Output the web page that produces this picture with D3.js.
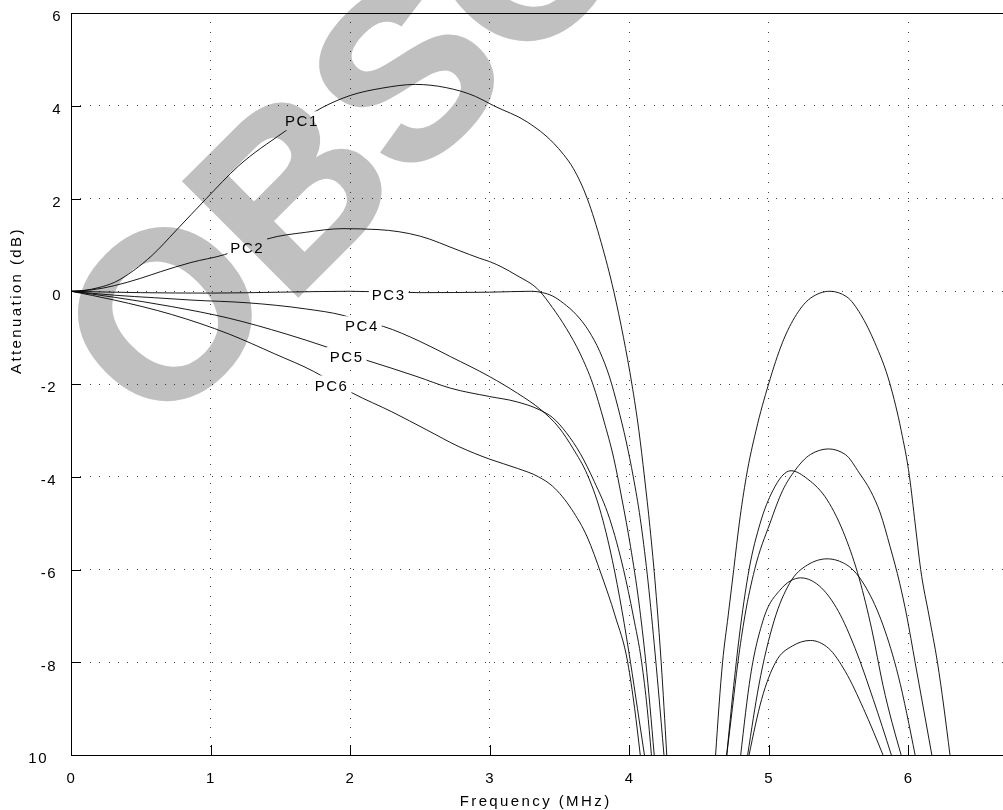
<!DOCTYPE html>
<html>
<head>
<meta charset="utf-8">
<script src="https://cdn.jsdelivr.net/npm/d3@7"></script>
<style>
  body { margin: 0; background: #fff; }
  svg { display: block; font-family: "Liberation Sans", Arial, sans-serif; }
  .axis text, .curve-label { font-size: 15px; letter-spacing: 1.5px; fill: #000; }
  .title { font-size: 15px; letter-spacing: 2.4px; fill: #000; }
  .axis path, .axis line { stroke: #000; stroke-width: 1; shape-rendering: crispEdges; }
  .grid line { stroke: #444; stroke-width: 1; stroke-dasharray: 1 8.4; shape-rendering: crispEdges; }
  .curve { fill: none; stroke: #000; stroke-width: 0.9; }
  .watermark { font-family: "Liberation Sans", Arial, sans-serif; font-weight: bold; font-size: 235px; fill: #c0c0c0; stroke: #c0c0c0; stroke-width: 3; mix-blend-mode: multiply; }
</style>
</head>
<body>
<div id="chart"></div>
<script>
// axis ticks
const xTicks = [0, 1, 2, 3, 4, 5, 6];
const yTicks = [6, 4, 2, 0, -2, -4, -6, -8, -10];
const yTickText = ['6', '4', '2', '0', '-2', '-4', '-6', '-8', '10'];

// passband responses [MHz, dB]
const pc1 = [[0, 0], [0.1, 0.02], [0.2, 0.08], [0.31, 0.19], [0.45, 0.45], [0.58, 0.77], [0.75, 1.3], [0.97, 2.0],
  [1.2, 2.7], [1.52, 3.42], [1.65, 3.69], [1.8, 3.96], [2.0, 4.22], [2.23, 4.38], [2.47, 4.46], [2.69, 4.39],
  [2.9, 4.2], [3.03, 4.0], [3.27, 3.65], [3.46, 3.19], [3.53, 2.95], [3.6, 2.65], [3.7, 2.0], [3.8, 1.05],
  [3.89, 0], [3.96, -1], [4.02, -2], [4.07, -3], [4.11, -4], [4.15, -5.1], [4.19, -6.4], [4.23, -8], [4.27, -10]];
const pc2 = [[0, 0], [0.15, 0.03], [0.31, 0.12], [0.5, 0.28], [0.64, 0.42], [0.86, 0.62], [1.1, 0.79], [1.25, 0.95],
  [1.41, 1.13], [1.68, 1.27], [1.95, 1.35], [2.2, 1.33], [2.5, 1.19], [2.78, 0.88], [2.93, 0.71], [3.0, 0.64],
  [3.19, 0.35], [3.36, 0], [3.45, -0.35], [3.55, -0.8], [3.65, -1.35], [3.74, -2], [3.82, -2.8], [3.89, -3.6],
  [3.95, -4.5], [4.01, -5.5], [4.07, -6.7], [4.12, -8], [4.18, -10]];
const pc3 = [[0, 0], [0.5, -0.03], [1.0, -0.04], [1.5, -0.02], [2.0, 0], [2.5, -0.03], [3.0, -0.02], [3.3, 0],
  [3.38, -0.03], [3.45, -0.1], [3.53, -0.26], [3.62, -0.5], [3.71, -0.85], [3.79, -1.3], [3.86, -1.85],
  [3.92, -2.5], [3.98, -3.25], [4.03, -4], [4.08, -4.9], [4.13, -6.1], [4.18, -7.6], [4.21, -8.6], [4.25, -10]];
const pc4 = [[0, 0], [0.31, -0.085], [0.6, -0.14], [0.86, -0.19], [1.27, -0.25], [1.68, -0.38], [1.95, -0.52],
  [2.09, -0.65], [2.24, -0.76], [2.5, -1.08], [2.72, -1.41], [3.0, -1.84], [3.2, -2.2], [3.37, -2.56], [3.5, -2.95],
  [3.6, -3.4], [3.7, -3.95], [3.79, -4.7], [3.88, -5.8], [3.95, -6.9], [4.01, -8], [4.06, -9], [4.11, -10]];
const pc5 = [[0, 0], [0.31, -0.13], [0.72, -0.33], [1.13, -0.58], [1.54, -0.92], [1.83, -1.2], [1.97, -1.35],
  [2.12, -1.49], [2.48, -1.84], [2.72, -2.09], [3.0, -2.27], [3.19, -2.38], [3.36, -2.56], [3.45, -2.72],
  [3.55, -3.05], [3.65, -3.5], [3.75, -4.1], [3.86, -4.9], [3.96, -6], [4.03, -7], [4.09, -8], [4.13, -9], [4.16, -10]];
const pc6 = [[0, 0], [0.31, -0.19], [0.72, -0.5], [1.13, -0.92], [1.46, -1.35], [1.74, -1.73], [1.87, -1.95],
  [2.02, -2.2], [2.3, -2.6], [2.55, -2.99], [2.78, -3.35], [3.0, -3.62], [3.2, -3.82], [3.35, -4.0], [3.45, -4.2],
  [3.59, -4.71], [3.7, -5.3], [3.8, -6.1], [3.9, -7.0], [3.99, -8], [4.04, -9], [4.08, -10]];

// stopband lobes [MHz, dB]
const lobe1 = [[4.62, -10], [4.67, -8], [4.71, -7], [4.75, -6], [4.79, -5], [4.84, -4], [4.91, -3], [5.0, -2],
  [5.1, -1.1], [5.2, -0.5], [5.3, -0.15], [5.44, 0], [5.56, -0.12], [5.66, -0.5], [5.76, -1.1], [5.87, -2],
  [5.95, -3], [6.01, -4], [6.05, -5], [6.09, -6], [6.15, -7], [6.21, -8], [6.3, -10]];
const lobe2 = [[4.7, -10], [4.74, -9], [4.78, -8], [4.83, -7], [4.9, -6], [5.01, -5], [5.1, -4.3], [5.19, -3.86],
  [5.3, -3.52], [5.43, -3.4], [5.55, -3.52], [5.65, -3.92], [5.73, -4.3], [5.8, -4.78], [5.87, -5.5],
  [5.94, -6.3], [5.99, -7], [6.05, -8], [6.17, -10]];
const lobe3 = [[4.7, -10], [4.75, -8.5], [4.8, -7.2], [4.86, -6], [4.94, -5], [5.03, -4.3], [5.16, -3.87],
  [5.28, -4.05], [5.42, -4.5], [5.55, -5.3], [5.65, -6.2], [5.74, -7.3], [5.82, -8.5], [5.95, -10]];
const lobe4 = [[4.85, -10], [4.93, -8.5], [5.04, -7.1], [5.15, -6.3], [5.28, -5.9], [5.42, -5.77], [5.56, -5.9],
  [5.7, -6.4], [5.82, -7.2], [5.93, -8.3], [6.05, -10]];
const lobe5 = [[4.8, -10], [4.87, -8.3], [4.96, -7.1], [5.08, -6.45], [5.23, -6.18], [5.38, -6.4], [5.5, -6.9],
  [5.62, -7.7], [5.75, -8.8], [5.88, -10]];
const lobe6 = [[4.86, -10], [4.95, -8.8], [5.05, -8.0], [5.17, -7.65], [5.3, -7.53], [5.43, -7.7], [5.55, -8.2],
  [5.68, -9.0], [5.82, -10]];

// curve labels, placed on the curves
const labelNames = ['PC1', 'PC2', 'PC3', 'PC4', 'PC5', 'PC6'];
const labelFreq = [1.655, 1.263, 2.277, 2.085, 1.976, 1.868];
const labelAtt = [3.67, 0.946, -0.07, -0.75, -1.414, -2.027];

const width = 1003;
const height = 810;
const margin = { top: 13, right: 0, bottom: 55, left: 71 };

const x = d3.scaleLinear().domain([0, 6.68]).range([margin.left, width - margin.right]);
const y = d3.scaleLinear().domain([-10, 6]).range([height - margin.bottom, margin.top]);

const svg = d3.select('#chart').append('svg')
    .attr('width', width)
    .attr('height', height);

svg.append('defs').append('clipPath')
    .attr('id', 'clip')
  .append('rect')
    .attr('x', x.range()[0])
    .attr('y', y.range()[1])
    .attr('width', x.range()[1] - x.range()[0])
    .attr('height', y.range()[0] - y.range()[1]);

// dotted grid
const grid = svg.append('g').attr('class', 'grid');
grid.selectAll('.gx')
  .data(xTicks.filter(d => d > 0))
  .enter().append('line')
    .attr('x1', d => x(d)).attr('x2', d => x(d))
    .attr('y1', y(6)).attr('y2', y(-10));
grid.selectAll('.gy')
  .data(yTicks.filter(d => d > -10 && d < 6))
  .enter().append('line')
    .attr('x1', x.range()[0]).attr('x2', x.range()[1])
    .attr('y1', d => y(d)).attr('y2', d => y(d));

// curves
const line = d3.line()
    .curve(d3.curveMonotoneX)
    .x(d => x(d[0]))
    .y(d => y(d[1]));

svg.append('g')
    .attr('clip-path', 'url(#clip)')
  .selectAll('path')
  .data([pc1, pc2, pc3, pc4, pc5, pc6, lobe1, lobe2, lobe3, lobe4, lobe5, lobe6])
  .enter().append('path')
    .attr('class', 'curve')
    .attr('d', line);

// labels with a white box that breaks the curve
const labels = svg.append('g');
labelNames.forEach((name, i) => {
  const g = labels.append('g')
      .attr('transform', `translate(${x(labelFreq[i])}, ${y(labelAtt[i])})`);
  const bg = g.append('rect').attr('fill', '#fff');
  const t = g.append('text')
      .attr('class', 'curve-label')
      .attr('text-anchor', 'middle')
      .attr('dy', '0.35em')
      .text(name);
  const bb = t.node().getBBox();
  bg.attr('x', bb.x - 3).attr('y', bb.y - 1)
    .attr('width', bb.width + 6).attr('height', bb.height + 2);
});

// axes
const yAxis = d3.axisLeft(y)
    .tickValues(yTicks)
    .tickFormat((d, i) => yTickText[i])
    .tickSize(-10)
    .tickSizeOuter(0)
    .tickPadding(10);

const xAxis = d3.axisBottom(x)
    .tickValues(xTicks)
    .tickFormat(d3.format('d'))
    .tickSize(-10)
    .tickSizeOuter(0)
    .tickPadding(17);

const gy = svg.append('g')
    .attr('class', 'y axis')
    .attr('transform', `translate(${margin.left}, 0)`)
    .call(yAxis);
gy.select('.domain').remove();
gy.selectAll('.tick text')
    .attr('font-family', null).attr('font-size', null)
    .attr('dy', '0.52em')
    .attr('x', d => (d === -10 ? -23 : d < 0 ? -14 : -9));

const gx = svg.append('g')
    .attr('class', 'x axis')
    .attr('transform', `translate(0, ${y(-10)})`)
    .call(xAxis);
gx.selectAll('.tick text').attr('font-family', null).attr('font-size', null);
gx.selectAll('.tick line').filter(d => d === 0).remove();

// frame: left, top
svg.append('g').attr('class', 'axis').selectAll('line')
  .data([
    [x.range()[0], y(6), x.range()[0], y(-10)],
    [x.range()[0], y(6), x.range()[1], y(6)],
  ])
  .enter().append('line')
    .attr('x1', d => d[0]).attr('y1', d => d[1])
    .attr('x2', d => d[2]).attr('y2', d => d[3]);

// axis titles
svg.append('text')
    .attr('class', 'title')
    .attr('text-anchor', 'middle')
    .attr('x', x(3.33))
    .attr('y', 806)
    .text('Frequency (MHz)');

svg.append('text')
    .attr('class', 'title')
    .attr('text-anchor', 'middle')
    .attr('transform', `translate(21, ${y(-0.2)}) rotate(-90)`)
    .text('Attenuation (dB)');

// watermark
svg.append('text')
    .attr('class', 'watermark')
    .attr('transform', 'translate(158, 436) rotate(-45)')
    .text('OBSOLETE');
</script>
</body>
</html>
